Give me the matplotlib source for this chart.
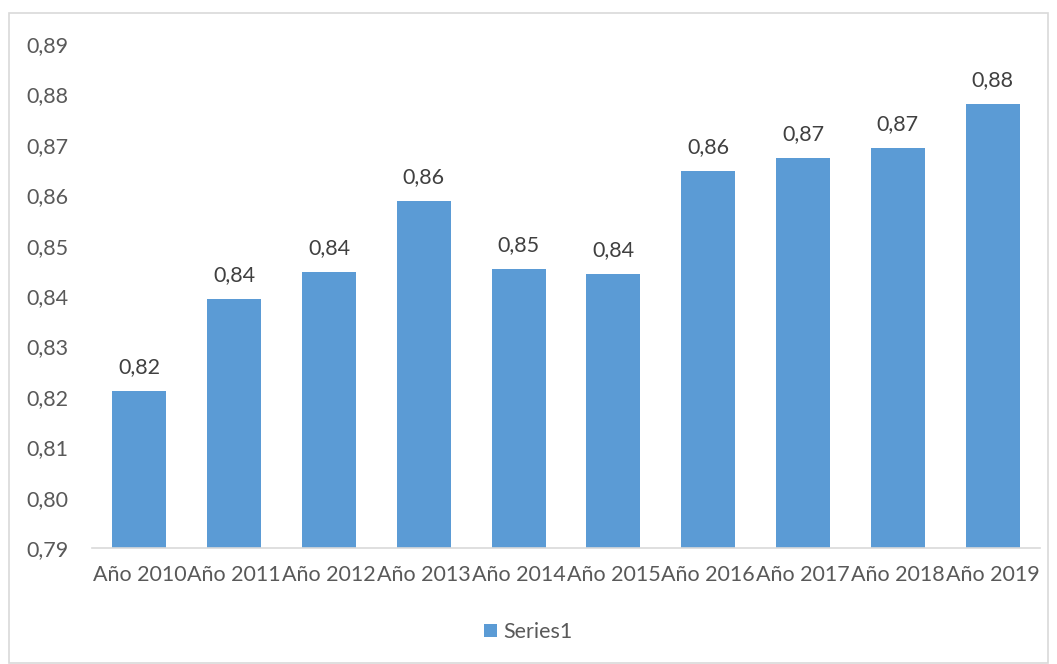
import matplotlib.pyplot as plt
from matplotlib.patches import Rectangle

years = ["Año 2010", "Año 2011", "Año 2012", "Año 2013", "Año 2014",
         "Año 2015", "Año 2016", "Año 2017", "Año 2018", "Año 2019"]
values = [0.8212, 0.8394, 0.8448, 0.8588, 0.8454,
          0.8444, 0.8648, 0.8674, 0.8694, 0.8781]
yticks = [0.79, 0.80, 0.81, 0.82, 0.83, 0.84, 0.85, 0.86, 0.87, 0.88, 0.89]

plt.rcParams['font.family'] = ['Lato', 'DejaVu Sans']
bar_color = '#5B9BD5'
text_color = '#595959'

fig = plt.figure(figsize=(10.57, 6.64), dpi=100)
# light grey chart border
fig.patches.append(Rectangle((9 / 1057, 0.002), 1 - 18 / 1057, 1 - 13 / 664 - 0.002,
                             transform=fig.transFigure, fill=False,
                             edgecolor='#D9D9D9', linewidth=1.2))

ax = fig.add_axes([0.087, 0.1747, 0.897, 0.759])
x = range(len(years))
bars = ax.bar(x, [v - 0.79 for v in values], bottom=0.79, width=0.57,
              color=bar_color, label='Series1')

for xi, v in zip(x, values):
    ax.text(xi, v + 0.0028, f"{v:.2f}".replace('.', ','), ha='center', va='bottom',
            fontsize=15.5, color='#404040')

ax.set_xlim(-0.5, len(years) - 0.5)
ax.set_ylim(0.79, 0.89)
ax.set_yticks(yticks)
ax.set_yticklabels([f"{t:.2f}".replace('.', ',') for t in yticks])
ax.set_xticks(list(x))
ax.set_xticklabels(years)
ax.tick_params(axis='both', length=0, labelsize=15.5, colors=text_color)
ax.tick_params(axis='x', pad=12)
ax.tick_params(axis='y', pad=17)
for s in ['top', 'right', 'left']:
    ax.spines[s].set_visible(False)
ax.spines['bottom'].set_color('#D9D9D9')
ax.spines['bottom'].set_linewidth(1.2)

fig.legend(handles=[bars], labels=['Series1'], loc='center', bbox_to_anchor=(0.5, 1 - 632 / 664),
           frameon=False, fontsize=15.5, labelcolor=text_color,
           handlelength=0.6, handleheight=0.6, handletextpad=0.3)

fig.savefig('out.png', dpi=100)
